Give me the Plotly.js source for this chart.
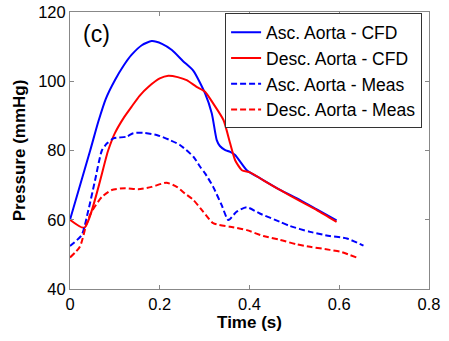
<!DOCTYPE html>
<html>
<head>
<meta charset="utf-8">
<script src="https://cdn.plot.ly/plotly-3.0.1.min.js"></script>
<style>html,body{margin:0;padding:0;background:#fff;}#chart{width:449px;height:341px;}</style>
</head>
<body>
<div id="chart"></div>
<script>
var seriesNames = ["Asc. Aorta - CFD", "Desc. Aorta - CFD", "Asc. Aorta - Meas", "Desc. Aorta - Meas"];

var ascCFD_t = [0, 0.045, 0.063, 0.08, 0.1, 0.12, 0.137, 0.16, 0.182, 0.205, 0.227, 0.252, 0.275, 0.301, 0.316, 0.327, 0.334, 0.345, 0.357, 0.368, 0.394, 0.423, 0.468, 0.513, 0.55, 0.594];
var ascCFD_p = [60, 80, 88.3, 95, 100.3, 104.6, 107.6, 110.4, 111.6, 110.8, 109, 105.8, 103, 96.5, 90.7, 83, 81.3, 80.2, 79.6, 78.7, 74.3, 72, 68.6, 65.7, 63, 59.8];

var descCFD_t = [0, 0.032, 0.085, 0.1, 0.12, 0.137, 0.155, 0.175, 0.2, 0.219, 0.24, 0.26, 0.282, 0.301, 0.319, 0.342, 0.357, 0.368, 0.383, 0.401, 0.431, 0.468, 0.513, 0.55, 0.594];
var descCFD_p = [60, 57.7, 80, 85, 89.5, 92.6, 95.8, 98.4, 100.8, 101.6, 101.2, 100.3, 98.4, 97, 93.6, 88.8, 82, 77.2, 74.3, 73.7, 71.4, 68.6, 65.4, 62.8, 59.4];

var ascMeas_t = [0, 0.026, 0.041, 0.056, 0.071, 0.082, 0.097, 0.126, 0.141, 0.163, 0.193, 0.223, 0.245, 0.275, 0.29, 0.301, 0.319, 0.338, 0.353, 0.371, 0.394, 0.423, 0.468, 0.49, 0.535, 0.579, 0.617, 0.654];
var ascMeas_p = [52.4, 55.6, 62.8, 71.5, 80, 82, 83.5, 84, 85, 85.1, 84.5, 83, 81.6, 78.2, 75.3, 73.4, 69.5, 64.2, 59.9, 62.3, 63.6, 61.8, 59.4, 58.2, 56.5, 55.3, 54.6, 52.5];

var descMeas_t = [0, 0.022, 0.037, 0.048, 0.071, 0.093, 0.123, 0.152, 0.182, 0.215, 0.238, 0.256, 0.275, 0.297, 0.319, 0.357, 0.394, 0.431, 0.468, 0.505, 0.535, 0.579, 0.602, 0.624, 0.639];
var descMeas_p = [49.1, 52.2, 58.9, 62.3, 66.6, 68.6, 69.1, 68.8, 69.5, 70.7, 69.5, 67.6, 65.7, 62.3, 59, 58, 57, 55.3, 54.2, 52.9, 52.2, 51.3, 50.8, 49.8, 49.1];

var xTicks = [0, 0.2, 0.4, 0.6, 0.8];
var xTickText = ["0", "0.2", "0.4", "0.6", "0.8"];
var yTicks = [40, 60, 80, 100, 120];
var yTickText = ["40", "60", "80", "100", "120"];

var BLUE = "#0000ff", RED = "#ff0000";
var DASH = "6px,3px";

var traces = [
  {x: ascCFD_t, y: ascCFD_p, name: seriesNames[0], mode: "lines", line: {color: BLUE, width: 2, shape: "spline", smoothing: 0.6}},
  {x: descCFD_t, y: descCFD_p, name: seriesNames[1], mode: "lines", line: {color: RED, width: 2, shape: "spline", smoothing: 0.6}},
  {x: ascMeas_t, y: ascMeas_p, name: seriesNames[2], mode: "lines", line: {color: BLUE, width: 2, dash: DASH, shape: "spline", smoothing: 0.6}},
  {x: descMeas_t, y: descMeas_p, name: seriesNames[3], mode: "lines", line: {color: RED, width: 2, dash: DASH, shape: "spline", smoothing: 0.6}}
];

var FONT = "Arial, 'Liberation Sans', sans-serif";
var axisCommon = {
  showgrid: false, zeroline: false, showline: true, linecolor: "#888", linewidth: 1,
  mirror: "ticks", ticks: "inside", ticklen: 4, tickcolor: "#888", tickwidth: 1,
  tickfont: {family: FONT, size: 16.5, color: "#000"}
};

var layout = {
  width: 449, height: 341,
  margin: {l: 70, r: 20, t: 12, b: 52},
  paper_bgcolor: "#fff", plot_bgcolor: "#fff",
  font: {family: FONT, color: "#000"},
  showlegend: true,
  legend: {x: 0.432, y: 0.995, xanchor: "left", yanchor: "top", bgcolor: "#fff",
           bordercolor: "#333", borderwidth: 1, font: {family: FONT, size: 17.5, color: "#000"},
           tracegroupgap: 0},
  xaxis: Object.assign({}, axisCommon, {range: [0, 0.8], tickvals: xTicks, ticktext: xTickText,
          title: {text: "<b>Time (s)</b>", font: {family: FONT, size: 17, color: "#000"}, standoff: 4}}),
  yaxis: Object.assign({}, axisCommon, {range: [40, 120], tickvals: yTicks, ticktext: yTickText,
          title: {text: "<b>Pressure (mmHg)</b>", font: {family: FONT, size: 17, color: "#000"}, standoff: 8}}),
  annotations: [{x: 0.058, y: 113.6, xref: "x", yref: "y", text: "(c)", showarrow: false,
                 font: {family: FONT, size: 23, color: "#000"}}]
};

Plotly.newPlot("chart", traces, layout, {displayModeBar: false, staticPlot: true});
</script>
</body>
</html>
